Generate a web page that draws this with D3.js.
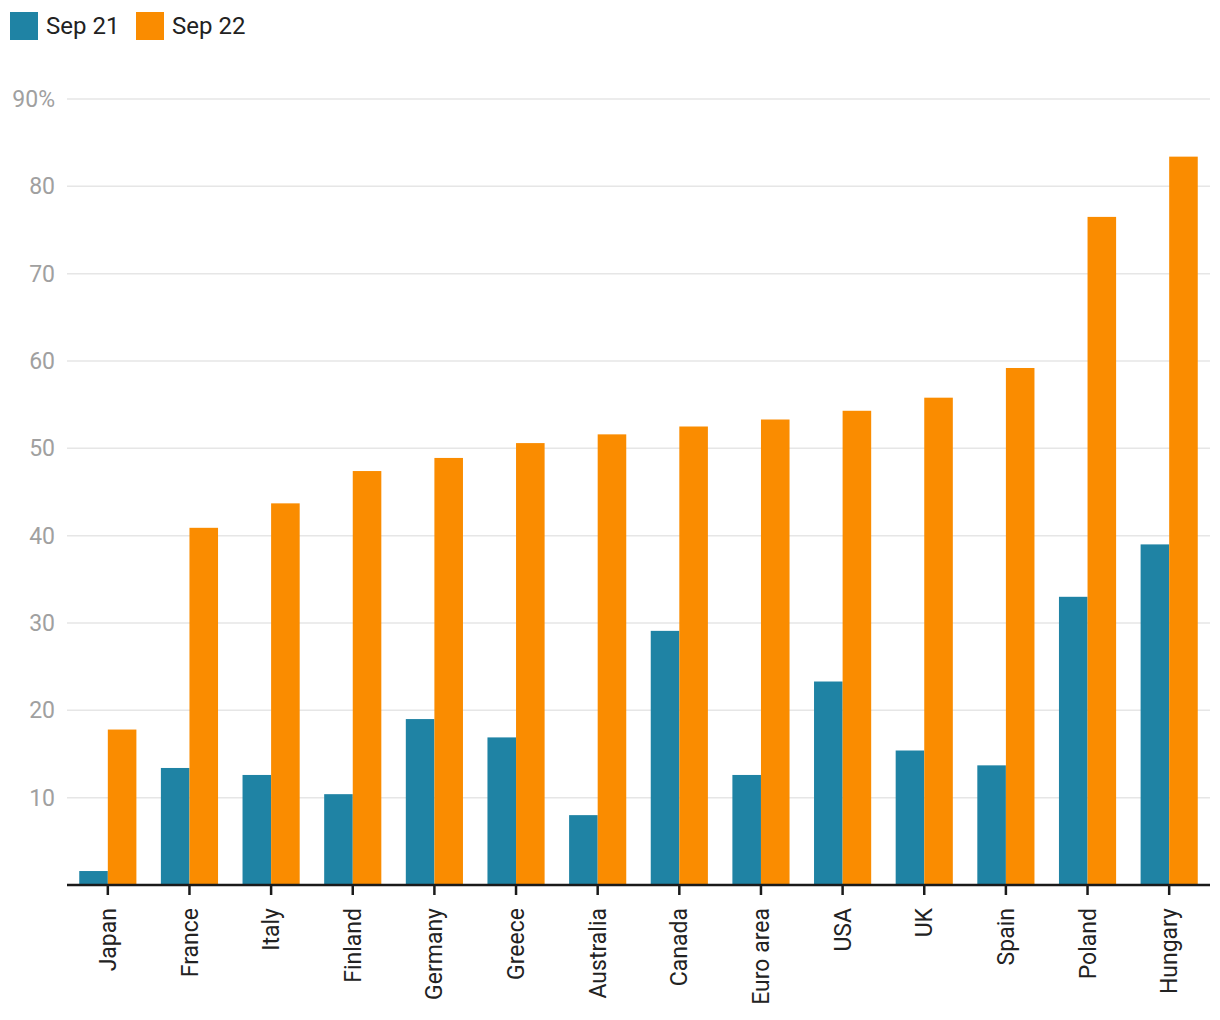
<!DOCTYPE html>
<html>
<head>
<meta charset="utf-8">
<script src="https://cdn.jsdelivr.net/npm/d3@7"></script>
<style>
  body { margin: 0; background: #fff; }
  svg { font-family: Roboto, "Noto Sans", sans-serif; }
</style>
</head>
<body>
<svg id="chart" width="1220" height="1020"></svg>
<script>
const categories = ["Japan","France","Italy","Finland","Germany","Greece","Australia","Canada","Euro area","USA","UK","Spain","Poland","Hungary"];
const seriesNames = ["Sep 21","Sep 22"];
const sep21 = [1.6, 13.4, 12.6, 10.4, 19.0, 16.9, 8.0, 29.1, 12.6, 23.3, 15.4, 13.7, 33.0, 39.0];
const sep22 = [17.8, 40.9, 43.7, 47.4, 48.9, 50.6, 51.6, 52.5, 53.3, 54.3, 55.8, 59.2, 76.5, 83.4];
const yTicks = [10, 20, 30, 40, 50, 60, 70, 80, 90];
const colors = ["#1f83a4", "#fa8c00"];

(function () {
const svg = d3.select("#chart");
const mLeft = 67, mRight = 1210, mTop = 99, mBottom = 885;

const x = d3.scaleBand().domain(categories).range([mLeft, mRight]).paddingInner(0.3).paddingOuter(0.15);
const x1 = d3.scaleBand().domain(seriesNames).range([0, x.bandwidth()]);
const y = d3.scaleLinear().domain([0, 90]).range([mBottom, mTop]);

// gridlines
svg.append("g").selectAll("line").data(yTicks).join("line")
  .attr("x1", mLeft).attr("x2", mRight)
  .attr("y1", d => y(d)).attr("y2", d => y(d))
  .attr("stroke", "#e6e6e6").attr("stroke-width", 1.5);

// y labels
svg.append("g").selectAll("text").data(yTicks).join("text")
  .attr("x", 55).attr("y", d => y(d)).attr("dy", "0.35em")
  .attr("text-anchor", "end").attr("fill", "#a0a0a0")
  .attr("font-size", 23)
  .text(d => d === 90 ? d + "%" : d);

// bars
const rows = categories.map((c, i) => ({c, vals: [sep21[i], sep22[i]]}));
const g = svg.append("g").selectAll("g").data(rows).join("g")
  .attr("transform", d => `translate(${x(d.c)},0)`);
g.selectAll("rect").data(d => d.vals.map((v, j) => ({v, s: seriesNames[j], j}))).join("rect")
  .attr("x", d => x1(d.s)).attr("width", x1.bandwidth())
  .attr("y", d => y(d.v)).attr("height", d => y(0) - y(d.v))
  .attr("fill", d => colors[d.j]);

// x axis
const xAxis = svg.append("g").attr("transform", `translate(0,${mBottom})`)
  .call(d3.axisBottom(x).tickSize(10).tickSizeOuter(0).tickPadding(10));
xAxis.select(".domain").attr("stroke", "#1a1a1a").attr("stroke-width", 2.5)
  .attr("d", `M${mLeft},0H${mRight}`);
xAxis.selectAll(".tick line").attr("stroke", "#1a1a1a").attr("stroke-width", 2.5);
xAxis.selectAll(".tick text")
  .attr("font-size", 23).attr("fill", "#222").attr("font-family", "Roboto, sans-serif")
  .attr("text-anchor", "end")
  .attr("transform", "rotate(-90)")
  .attr("x", -23).attr("y", 0).attr("dy", "0.35em");

// legend
const legend = svg.append("g");
const lx = [10, 136];
seriesNames.forEach((s, i) => {
  legend.append("rect").attr("x", lx[i]).attr("y", 12).attr("width", 28).attr("height", 28).attr("fill", colors[i]);
  legend.append("text").attr("x", lx[i] + 36).attr("y", 26).attr("dy", "0.35em")
    .attr("font-size", 24).attr("fill", "#222").text(s);
});
})();
</script>
</body>
</html>
